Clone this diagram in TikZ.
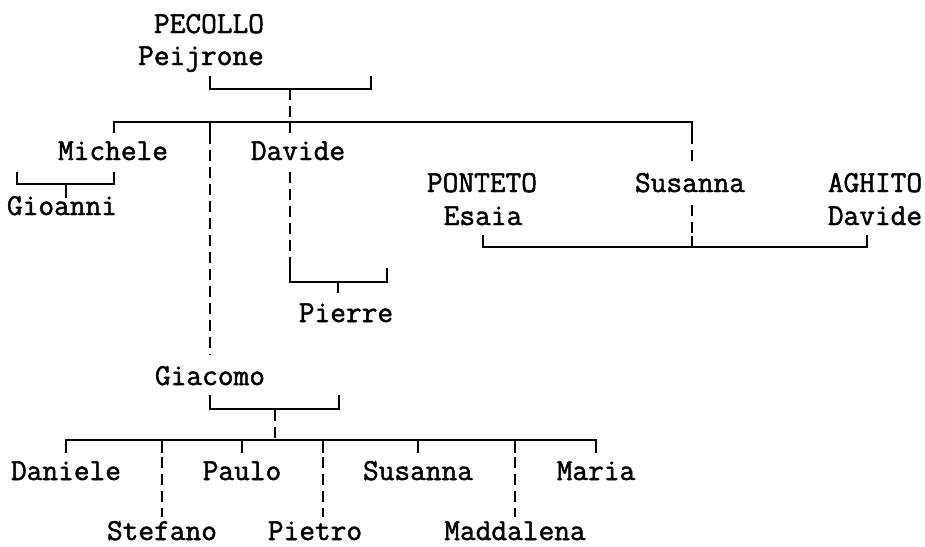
\documentclass[tikz,border=0pt]{standalone}
\usepackage{fontspec}
\newfontfamily\treefont{Latin Modern Mono}[FakeBold=1.6]
\begin{document}
\tikzset{
  person/.style={font=\treefont\fontsize{30.5}{33}\selectfont, anchor=base, inner sep=0pt},
  ln/.style={line width=1.7pt, line cap=butt},
  dl/.style={line width=1.7pt, dash pattern=on 11pt off 6pt},
}
\begin{tikzpicture}[x=1pt,y=-1pt]
\useasboundingbox (0,0) rectangle (925,546);
% names
\node[person] (pecollo)  at (209,33)  {PECOLLO};
\node[person] (peijrone) at (201,65)  {Peijrone};
\node[person] (michele)  at (113,160) {Michele};
\node[person] (davide)   at (298,160) {Davide};
\node[person] (gioanni)  at (62,215)  {Gioanni};
\node[person] (ponteto)  at (482,192) {PONTETO};
\node[person] (esaia)    at (483,225) {Esaia};
\node[person] (susanna)  at (690,192) {Susanna};
\node[person] (aghito)   at (875,192) {AGHITO};
\node[person] (davide2)  at (875,225) {Davide};
\node[person] (pierre)   at (346,322) {Pierre};
\node[person] (giacomo)  at (210,385) {Giacomo};
\node[person] (daniele)  at (66,480)  {Daniele};
\node[person] (paulo)    at (242,480) {Paulo};
\node[person] (susanna2) at (418,480) {Susanna};
\node[person] (maria)    at (596,480) {Maria};
\node[person] (stefano)  at (162,540) {Stefano};
\node[person] (pietro)   at (315,540) {Pietro};
\node[person] (maddalena) at (515,540) {Maddalena};
% junction points
\coordinate (pa) at (290,89);
\coordinate (pb) at (290,122);
\coordinate (gj) at (275,409);
\coordinate (gk) at (275,440);
% Pecollo marriage bracket and descent
\draw[ln] (210,76) -- (210,89) -- (371,89) -- (371,76);
\draw[dl] (pa) -- (pb);
\draw[ln] (114,133) -- (114,122) -- (692,122) -- (692,133);
\draw[ln] (210,122) -- (210,133);
\draw[ln] (pb) -- (290,133);
\draw[dl] (210,133) -- (210,355);
\draw[dl] (692,133) -- (692,166);
% Michele
\draw[ln] (17,172) -- (17,184) -- (114,184) -- (114,172);
\draw[ln] (66,184) -- (66,198);
% Davide
\draw[dl] (290,172) -- (290,268);
\draw[ln] (290,268) -- (290,282) -- (387,282) -- (387,268);
\draw[ln] (338,282) -- (338,293);
% Susanna
\draw[dl] (692,205) -- (692,236);
\draw[ln] (692,236) -- (692,247);
\draw[ln] (483,235) -- (483,247) -- (867,247) -- (867,235);
% Giacomo
\draw[ln] (210,395) -- (210,409) -- (339,409) -- (339,395);
\draw[ln] (gj) -- (275,421);
\draw[dl] (275,427) -- (gk);
\draw[ln] (66,453) -- (66,440) -- (596,440) -- (596,453);
\foreach \x in {162,242,323,418,515} {\draw[ln] (\x,440) -- (\x,453);}
\foreach \x in {162,323,515} {\draw[dl] (\x,457) -- (\x,517);}
\end{tikzpicture}
\end{document}
